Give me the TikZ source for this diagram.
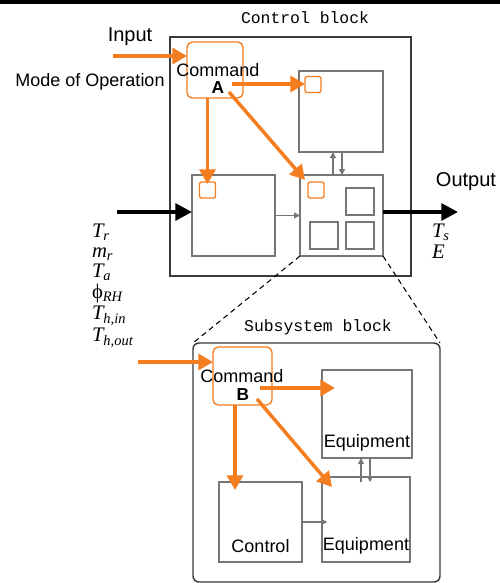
\documentclass[tikz,border=0pt]{standalone}
\usepackage{fontspec}
\setmainfont{Liberation Sans}
\newfontfamily\blockfont{Liberation Mono}
\newfontfamily\varfont{Liberation Serif}
\usetikzlibrary{arrows.meta,calc}

\definecolor{cmdorange}{HTML}{F47D20}
\definecolor{boxgray}{HTML}{767676}
\definecolor{framegray}{HTML}{3A3A3A}

% italic variable with italic subscript
\newcommand\qty[2]{{\varfont\itshape #1\textsubscript{#2}}}

\tikzset{
  frame/.style={draw=framegray, line width=1.1pt},
  unit/.style={draw=boxgray, line width=1.1pt},
  cmdbox/.style={draw=cmdorange, line width=1pt, rounded corners=4pt},
  port/.style={draw=cmdorange, line width=1pt, rounded corners=1.5pt, minimum size=12pt},
  cmdflow/.style={draw=cmdorange, line width=2.6pt, -{Triangle[length=11pt,width=12pt]}},
  sigflow/.style={draw=black, line width=3pt, -{Triangle[length=12.5pt,width=12.5pt]}},
  link/.style={draw=boxgray, line width=0.9pt, -{Triangle[length=4.5pt,width=4.5pt]}},
  zoomline/.style={draw=black, line width=0.8pt, dash pattern=on 4pt off 3pt},
  title/.style={font=\blockfont\fontsize{12.3}{14}\selectfont},
  lbl/.style={font=\fontsize{13.5}{15}\selectfont},
  biglbl/.style={font=\fontsize{15}{17}\selectfont},
  tag/.style={font=\bfseries\fontsize{13}{15}\selectfont},
  var/.style={anchor=west, font=\fontsize{15.5}{18}\selectfont,
    text height=9.5pt, text depth=2.5pt},
}

\begin{document}
\begin{tikzpicture}[x=0.75pt, y=-0.75pt,
  every node/.style={inner sep=0pt, outer sep=0pt}]
\useasboundingbox (0,0) rectangle (500,583);
\fill[black] (0,0) rectangle (500,3.5);

% ---------- control block ----------
\node[title] (ctitle) at (305,18) {Control block};
\node[frame, minimum width=180.75pt, minimum height=179.25pt] (ctrl) at (290.5,156.5) {};

\node[cmdbox, minimum width=42pt, minimum height=42pt] (cmdA) at (215,70) {};
\node[lbl] (cmdAtxt) at (218,70) {Command};
\node[tag] (Atag) at (218,88) {A};

\node[unit, minimum width=63pt, minimum height=60.75pt] (topR) at (341,111.5) {};
\node[unit, minimum width=62.25pt, minimum height=60.75pt] (leftB) at (233.5,215.5) {};
\node[unit, minimum width=62.25pt, minimum height=60.75pt] (rightB) at (341.5,215.5) {};

\node[port] (sqT) at (313,84.5) {};
\node[port] (sqL) at (207.5,190) {};
\node[port] (sqR) at (316,190) {};

\node[unit, minimum width=21pt, minimum height=20.25pt] (g1) at (360,201.5) {};
\node[unit, minimum width=21pt, minimum height=20.25pt] (g2) at (324,235.5) {};
\node[unit, minimum width=21pt, minimum height=20.25pt] (g3) at (360,235.5) {};

% inputs and outputs
\node[biglbl] (inlbl) at (130,37) {Input};
\node[lbl] (mode) at (90,82) {Mode of Operation};
\coordinate (inA) at (113,56);
\draw[cmdflow] (inA) -- (inA -| cmdA.west);

\coordinate (sigin) at (117,212);
\draw[sigflow] (sigin) -- (sigin -| leftB.west);
\coordinate (sigout) at (458,212);
\draw[sigflow] (sigout -| rightB.east) -- (sigout);
\node[biglbl] (outlbl) at (466,182) {Output};
\node[var] (Ts) at (432,233) {\qty{T}{s}};
\node[var] (E) at (432,254) {{\varfont\itshape E}};

\node[var] (Tr) at (92,233) {\qty{T}{r}};
\node[var] (mr) at (92,253) {\qty{m}{r}};
\node[var] (Ta) at (92,273) {\qty{T}{a}};
\node[var] (phi) at (92,294) {{\varfont ϕ}\textsubscript{\varfont\itshape RH}};
\node[var] (Thin) at (92,315) {\qty{T}{h,in}};
\node[var] (Thout) at (92,337) {\qty{T}{h,out}};

% command flows inside the control block
\coordinate (aR) at ($(cmdA.center)+(17,14)$);
\coordinate (aD) at ($(cmdA.center)+(14,22)$);
\draw[cmdflow] (aR) -- (sqT.west |- aR);
\draw[cmdflow] (sqL.north |- cmdA.south) -- ($(sqL.north)+(0,2)$);
\draw[cmdflow] (aD) -- ($(rightB.north west)+(5,5)$);

% signal links between units
\draw[link] (leftB.east) -- (rightB.west);
\draw[link] ([xshift=-6.4pt]rightB.north) -- ([xshift=-6.4pt]rightB.north |- topR.south);
\draw[link] ([xshift=0.4pt]rightB.north |- topR.south) -- ([xshift=0.4pt]rightB.north);

% ---------- subsystem block ----------
\node[frame, rounded corners=4.5pt, minimum width=185.25pt, minimum height=179.25pt] (sub) at (316.5,462.5) {};
\node[title] (stitle) at (318,327) {Subsystem block};
\draw[zoomline] (rightB.south west) -- (sub.north west);
\draw[zoomline] (rightB.south east) -- (sub.north east);

\node[cmdbox, minimum width=44.25pt, minimum height=43.5pt] (cmdB) at (242.5,376) {};
\node[lbl] (cmdBtxt) at (242,376) {Command};
\node[tag] (Btag) at (243,395) {B};

\node[unit, minimum width=67.5pt, minimum height=66pt] (eq1) at (367,414) {};
\node[unit, minimum width=66pt, minimum height=63.75pt] (eq2) at (366,519.5) {};
\node[unit, minimum width=62.25pt, minimum height=60pt] (ctl) at (260.5,522) {};
\node[lbl] (eq1txt) at (367,443) {Equipment};
\node[lbl] (eq2txt) at (366,546) {Equipment};
\node[lbl] (ctltxt) at (260.5,546) {Control};

\coordinate (inB) at (138,362);
\coordinate (bR) at ($(cmdB.center)+(17.5,12)$);
\coordinate (bD) at ($(cmdB.center)+(14.5,23)$);
\coordinate (ctlIn) at ($(ctl.north west)+(16,8)$);
\draw[cmdflow] (inB) -- (inB -| cmdB.west);
\draw[cmdflow] (bR) -- ($(eq1.north west)+(13,18)$);
\draw[cmdflow] (ctlIn |- cmdB.south) -- (ctlIn);
\draw[cmdflow] (bD) -- ($(eq2.north west)+(10,10)$);

\draw[link] (ctl.east) -- ([xshift=4pt]ctl.east -| eq2.west);
\draw[link] ([xshift=-3.75pt,yshift=-3.75pt]eq2.north) -- ([xshift=-3.75pt]eq2.north |- eq1.south);
\draw[link] ([xshift=3pt]eq2.north |- eq1.south) -- ([xshift=3pt,yshift=-3.75pt]eq2.north);
\end{tikzpicture}
\end{document}
